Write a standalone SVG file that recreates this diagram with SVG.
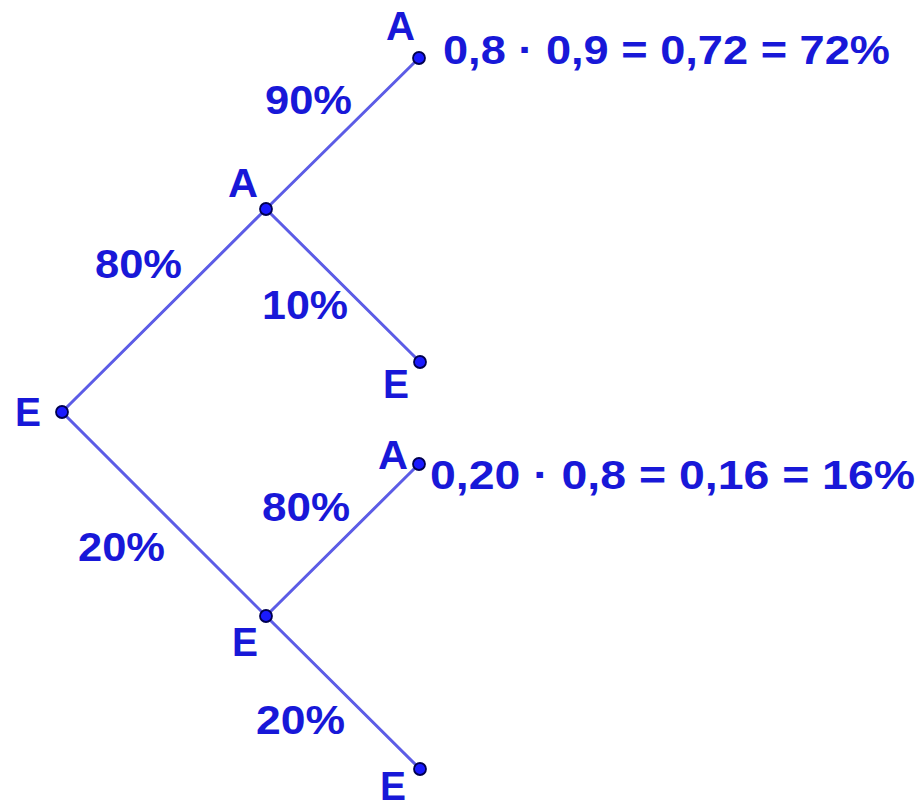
<svg xmlns="http://www.w3.org/2000/svg" width="923" height="808" viewBox="0 0 923 808">
<style>
.t{font-family:"Liberation Sans",Arial,sans-serif;font-weight:bold;font-size:41px;fill:#1818d8}
.e{stroke:#5c5ce6;stroke-width:3;fill:none;stroke-linecap:round}
.d{fill:#1a1aff;stroke:#000050;stroke-width:1.8}
</style>
<rect width="923" height="808" fill="#ffffff"/>
<g id="edges">
<line class="e" x1="62" y1="412" x2="266" y2="209"/>
<line class="e" x1="266" y1="209" x2="419" y2="58"/>
<line class="e" x1="266" y1="209" x2="420" y2="362"/>
<line class="e" x1="62" y1="412" x2="266" y2="616"/>
<line class="e" x1="266" y1="616" x2="419" y2="464"/>
<line class="e" x1="266" y1="616" x2="420" y2="769"/>
</g>
<g id="edge-labels">
<text class="t" x="265" y="114" textLength="87" lengthAdjust="spacingAndGlyphs">90%</text>
<text class="t" x="95" y="278" textLength="87" lengthAdjust="spacingAndGlyphs">80%</text>
<text class="t" x="262" y="319" textLength="86" lengthAdjust="spacingAndGlyphs">10%</text>
<text class="t" x="262" y="521" textLength="88" lengthAdjust="spacingAndGlyphs">80%</text>
<text class="t" x="78" y="561" textLength="87" lengthAdjust="spacingAndGlyphs">20%</text>
<text class="t" x="256" y="734" textLength="89" lengthAdjust="spacingAndGlyphs">20%</text>
</g>
<g id="n-root"><circle class="d" cx="62" cy="412" r="6"/><text class="t" x="15" y="426" textLength="26" lengthAdjust="spacingAndGlyphs">E</text></g>
<g id="n-A1"><circle class="d" cx="266" cy="209" r="6"/><text class="t" x="228" y="197" textLength="30" lengthAdjust="spacingAndGlyphs">A</text></g>
<g id="n-AA"><circle class="d" cx="419" cy="58" r="6"/><text class="t" x="386" y="40" textLength="29" lengthAdjust="spacingAndGlyphs">A</text><text class="t" x="443" y="64" textLength="447" lengthAdjust="spacingAndGlyphs">0,8 · 0,9 = 0,72 = 72%</text></g>
<g id="n-AE"><circle class="d" cx="420" cy="362" r="6"/><text class="t" x="383" y="398" textLength="26" lengthAdjust="spacingAndGlyphs">E</text></g>
<g id="n-E1"><circle class="d" cx="266" cy="616" r="6"/><text class="t" x="232" y="656" textLength="26" lengthAdjust="spacingAndGlyphs">E</text></g>
<g id="n-EA"><circle class="d" cx="419" cy="464" r="6"/><text class="t" x="378" y="469" textLength="30" lengthAdjust="spacingAndGlyphs">A</text><text class="t" x="430" y="489" textLength="485" lengthAdjust="spacingAndGlyphs">0,20 · 0,8 = 0,16 = 16%</text></g>
<g id="n-EE"><circle class="d" cx="420" cy="769" r="6"/><text class="t" x="380" y="800" textLength="26" lengthAdjust="spacingAndGlyphs">E</text></g>
</svg>
